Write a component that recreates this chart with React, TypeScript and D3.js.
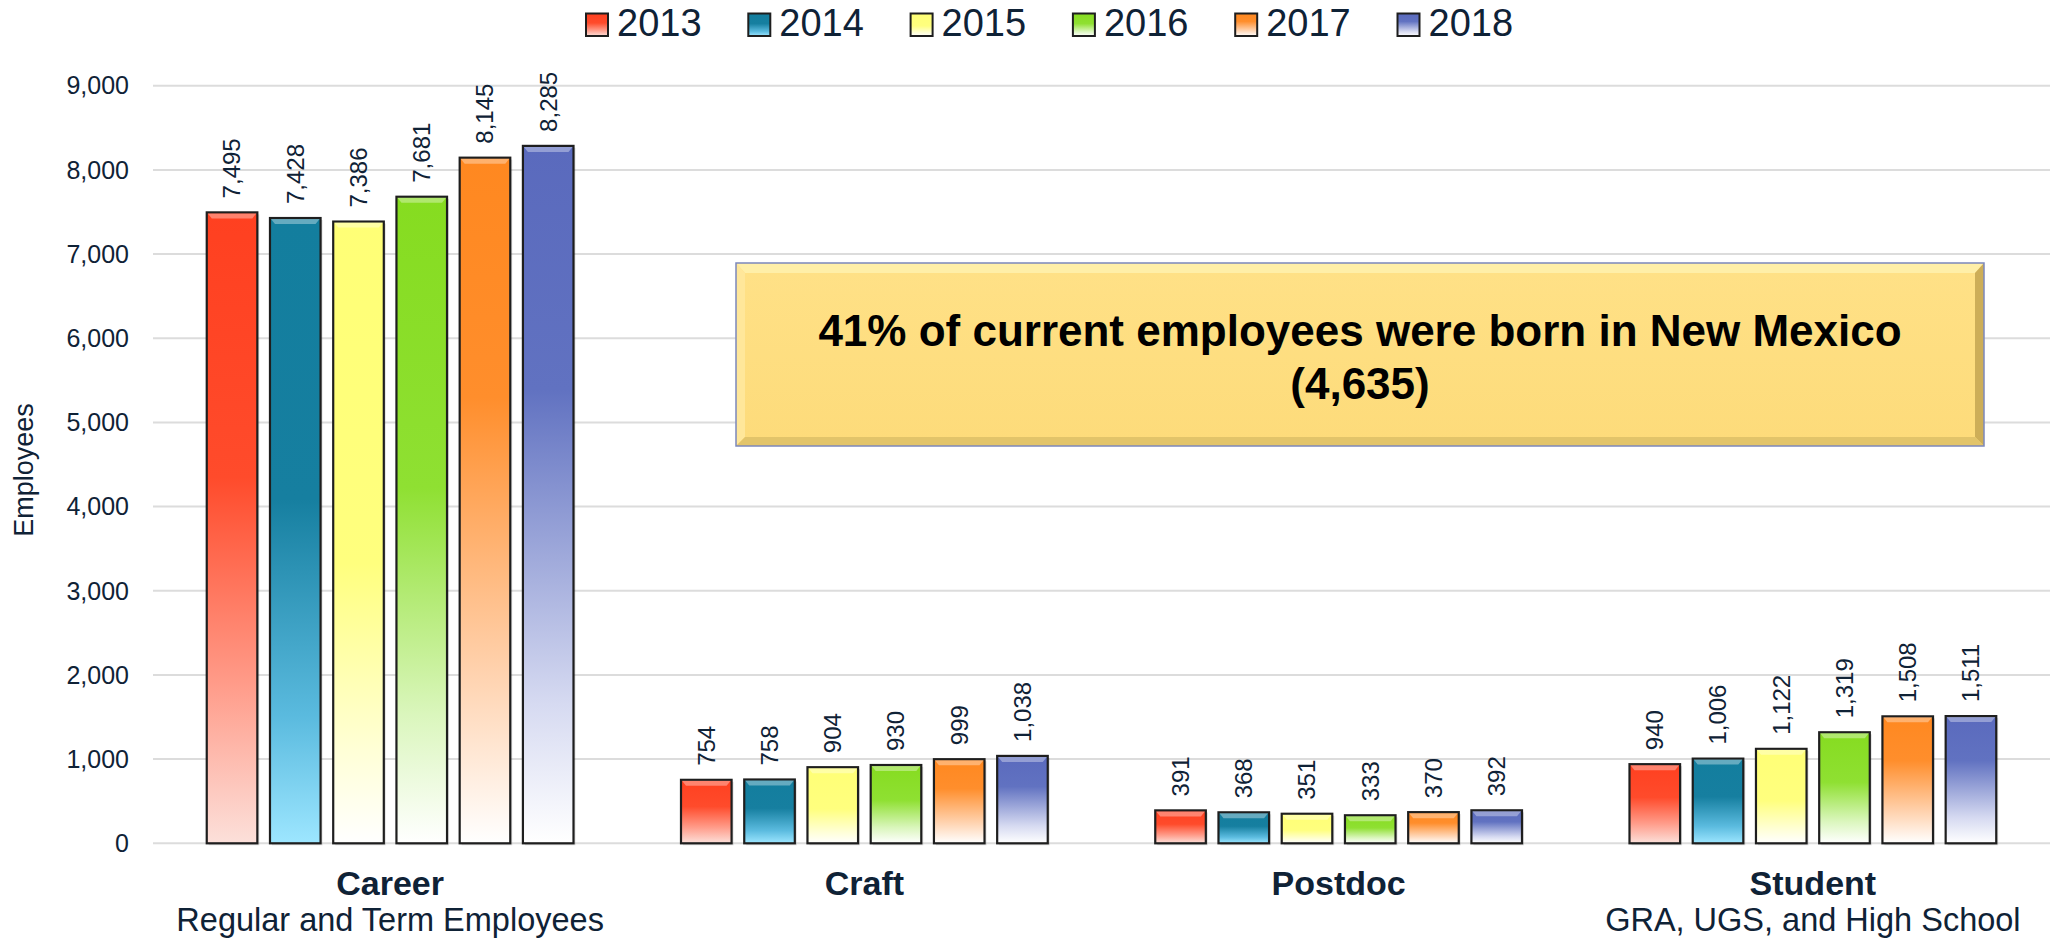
import React from 'react';
import * as d3 from 'd3';

const categories = ['Career', 'Craft', 'Postdoc', 'Student'];
const subLabels = ['Regular and Term Employees', '', '', 'GRA, UGS, and High School'];
const years = ['2013', '2014', '2015', '2016', '2017', '2018'];
const v2013 = [7495, 754, 391, 940];
const v2014 = [7428, 758, 368, 1006];
const v2015 = [7386, 904, 351, 1122];
const v2016 = [7681, 930, 333, 1319];
const v2017 = [8145, 999, 370, 1508];
const v2018 = [8285, 1038, 392, 1511];
const yTicks = [0, 1000, 2000, 3000, 4000, 5000, 6000, 7000, 8000, 9000];
const yTitle = 'Employees';
const noteLine1 = '41% of current employees were born in New Mexico';
const noteLine2 = '(4,635)';

const seriesValues = [v2013, v2014, v2015, v2016, v2017, v2018];

// gradient stops per series [offset, color]
const gradStops: [number, string][][] = [
  [[0, '#FF4020'], [0.42, '#FF4B2B'], [0.75, '#FF9C8A'], [1, '#FCE0DA']],
  [[0, '#137E9E'], [0.45, '#167FA0'], [0.8, '#5BBBDF'], [1, '#9DE6FF']],
  [[0, '#FFFF76'], [0.55, '#FFFF7E'], [0.85, '#FFFFD6'], [1, '#FFFFFF']],
  [[0, '#86DC20'], [0.45, '#8FE032'], [0.8, '#DAF6BC'], [1, '#FFFFFF']],
  [[0, '#FF8820'], [0.35, '#FF8E2C'], [0.75, '#FFD2AE'], [1, '#FFFFFF']],
  [[0, '#5A6ABD'], [0.35, '#6172C1'], [0.8, '#D6DAF1'], [1, '#FFFFFF']],
];

const W = 2059;
const H = 942;
const plotLeft = 153;
const plotRight = 2050;
const yZero = 843.3;
const yTop = 85.7;
const textColor = '#0F2236';
const font = '"Liberation Sans", Arial, sans-serif';

export default function App() {
  const x0 = d3.scaleBand<string>().domain(categories).range([plotLeft, plotRight]).paddingInner(0.2).paddingOuter(0.1);
  const x1 = d3.scaleBand<string>().domain(years).range([0, x0.bandwidth()]).paddingInner(0.2).paddingOuter(0.1);
  const y = d3.scaleLinear().domain([0, 9000]).range([yZero, yTop]);
  const fmt = d3.format(',');

  const legendStart = 586;
  const legendStep = 162.3;

  return (
    <svg width={W} height={H} style={{ position: 'absolute', left: 0, top: 0, background: '#fff' }} fontFamily={font}>
      <defs>
        {gradStops.map((stops, i) => (
          <linearGradient key={i} id={`g${i}`} x1="0" y1="0" x2="0" y2="1">
            {stops.map(([o, c], j) => (
              <stop key={j} offset={o} stopColor={c} />
            ))}
          </linearGradient>
        ))}
        <linearGradient id="boxFill" x1="0" y1="0" x2="0" y2="1">
          <stop offset="0" stopColor="#FFE187" />
          <stop offset="1" stopColor="#FDDB7A" />
        </linearGradient>
      </defs>

      {/* gridlines */}
      {yTicks.map((t) => (
        <g key={t}>
          <line x1={plotLeft} x2={plotRight} y1={y(t)} y2={y(t)} stroke="#DCDCDC" strokeWidth={2} />
          <text x={129} y={y(t)} dy="0.35em" textAnchor="end" fontSize={25} fill={textColor}>
            {fmt(t)}
          </text>
        </g>
      ))}

      {/* y title */}
      <text transform={`translate(33,470) rotate(-90)`} textAnchor="middle" fontSize={27} fill={textColor}>
        {yTitle}
      </text>

      {/* bars */}
      {categories.map((cat, ci) => (
        <g key={cat} transform={`translate(${x0(cat)},0)`}>
          {years.map((yr, si) => {
            const v = seriesValues[si][ci];
            const bx = x1(yr)!;
            const bw = x1.bandwidth();
            const top = y(v);
            const h = yZero - top;
            const cx = bx + bw / 2;
            return (
              <g key={yr}>
                <rect x={bx + 2} y={top + 2} width={bw} height={h} fill="#000" opacity={0.12} />
                <rect x={bx} y={top} width={bw} height={h} fill={`url(#g${si})`} stroke="#1E1E1E" strokeWidth={2.2} />
                <polygon
                  points={`${bx + 1},${top + 1} ${bx + bw - 1},${top + 1} ${bx + bw - 5},${top + 6} ${bx + 5},${top + 6}`}
                  fill="#fff"
                  opacity={0.35}
                />
                <text
                  transform={`translate(${cx},${top - 14}) rotate(-90)`}
                  dy="0.35em"
                  textAnchor="start"
                  fontSize={24}
                  fill={textColor}
                >
                  {fmt(v)}
                </text>
              </g>
            );
          })}
        </g>
      ))}

      {/* category labels */}
      {categories.map((cat, ci) => {
        const cx = x0(cat)! + x0.bandwidth() / 2;
        return (
          <g key={cat}>
            <text x={cx} y={895} textAnchor="middle" fontSize={34} fontWeight="bold" fill={textColor}>
              {cat}
            </text>
            {subLabels[ci] && (
              <text x={cx} y={931} textAnchor="middle" fontSize={32.5} fill={textColor}>
                {subLabels[ci]}
              </text>
            )}
          </g>
        );
      })}

      {/* annotation box */}
      <g>
        <rect x={736} y={263} width={1248} height={183} fill="url(#boxFill)" />
        <polygon points="736,263 1984,263 1975,273 745,273" fill="#FFEFA8" />
        <polygon points="736,263 745,273 745,437 736,446" fill="#FFE79A" />
        <polygon points="1984,263 1984,446 1975,437 1975,273" fill="#CDAE58" />
        <polygon points="736,446 1984,446 1975,437 745,437" fill="#E2C46A" />
        <rect x={736} y={263} width={1248} height={183} fill="none" stroke="#7C88BC" strokeWidth={1.5} />
        <text x={1360} y={346} textAnchor="middle" fontSize={44} fontWeight="bold" fill="#000">
          {noteLine1}
        </text>
        <text x={1360} y={399} textAnchor="middle" fontSize={44} fontWeight="bold" fill="#000">
          {noteLine2}
        </text>
      </g>

      {/* legend */}
      {years.map((yr, i) => {
        const lx = legendStart + i * legendStep;
        return (
          <g key={yr}>
            <rect x={lx} y={13.5} width={22} height={22.5} fill={`url(#g${i})`} stroke="#1E1E1E" strokeWidth={2} />
            <text x={lx + 31} y={36} fontSize={38} fill={textColor}>
              {yr}
            </text>
          </g>
        );
      })}
    </svg>
  );
}
